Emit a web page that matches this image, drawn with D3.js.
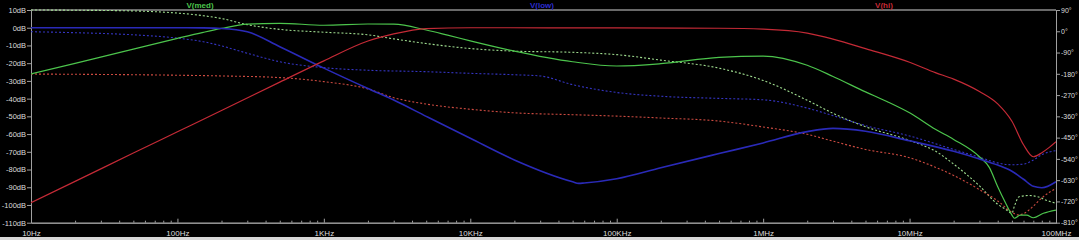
<!DOCTYPE html>
<html>
<head>
<meta charset="utf-8">
<script src="https://cdn.jsdelivr.net/npm/d3@7"></script>
<style>
  html, body { margin: 0; padding: 0; background: #000; }
  svg { display: block; }
  .tick text { font-family: "Liberation Sans", Arial, sans-serif; fill: #dcdcdc; }
</style>
</head>
<body>
<div class="chart"></div>
<script>
// tick labels
const dbTicks = [10, 0, -10, -20, -30, -40, -50, -60, -70, -80, -90, -100, -110];
const degTicks = [90, 0, -90, -180, -270, -360, -450, -540, -630, -720, -810];
const freqTicks = [10, 100, 1e3, 1e4, 1e5, 1e6, 1e7, 1e8];
const freqLabels = ["10Hz", "100Hz", "1KHz", "10KHz", "100KHz", "1MHz", "10MHz", "100MHz"];

// [freq Hz, dB] and [freq Hz, degrees]
const medMag = [[10,-26.1],[20,-20.1],[50,-12.1],[100,-6],[150,-2.6],[200,-0.4],[300,2],[500,2.5],[1e3,1.4],[2e3,2.1],[3e3,2],[5e3,-1.3],[7e3,-4.2],[1e4,-7.4],[2e4,-13.2],[5e4,-19.2],[1e5,-21.6],[2e5,-20.3],[5e5,-16.7],[1e6,-16],[2e6,-21.2],[3e6,-27.5],[5e6,-36.2],[7e6,-41.6],[1e7,-48],[1.5e7,-57.3],[2e7,-63],[3e7,-72.8],[3.5e7,-78.8],[4e7,-89.7],[4.5e7,-98.5],[5e7,-105.7],[5.2e7,-107.5],[5.7e7,-105.7],[6.3e7,-105.7],[7e7,-107.2],[8.2e7,-104.7],[1e8,-102.9]];
const medPhase = [[10,90],[20,89],[50,86],[100,77],[150,66],[200,54],[300,28],[500,8],[1e3,-4],[2e3,-15],[3e3,-32],[5e3,-52],[1e4,-73],[2e4,-84],[5e4,-89],[1e5,-99],[2e5,-122],[5e5,-156],[1e6,-208],[2e6,-292],[3e6,-347],[5e6,-404],[1e7,-462],[1.5e7,-507],[2e7,-562],[3e7,-654],[4e7,-732],[4.5e7,-752],[5e7,-770],[5.2e7,-740],[5.6e7,-700],[6.5e7,-695],[7.5e7,-700],[8.5e7,-714],[1e8,-728]];

const lowMag = [[10,0],[100,0],[150,-0.1],[200,-0.4],[300,-2.3],[500,-10.7],[1e3,-22.8],[2e3,-34.3],[3e3,-40.8],[5e3,-50],[1e4,-62.4],[2e4,-74.6],[5e4,-86.9],[5.5e4,-87.8],[6e4,-87.6],[1e5,-85.2],[2e5,-79],[5e5,-71],[1e6,-65],[2e6,-58.6],[3e6,-56.8],[5e6,-58.4],[1e7,-63.8],[2e7,-69.7],[3e7,-74],[4e7,-77.5],[5e7,-81],[6e7,-85.5],[7e7,-89.5],[8e7,-90.3],[1e8,-86.9]];
const lowPhase = [[10,-2],[20,-6],[50,-15],[100,-29],[150,-44],[200,-62],[300,-93],[500,-129],[1e3,-154],[2e3,-165],[5e3,-171],[1e4,-178],[2e4,-184],[3e4,-189],[5e4,-226],[1e5,-259],[2e5,-275],[5e5,-284],[1e6,-290],[2e6,-325],[3e6,-357],[5e6,-399],[1e7,-443],[2e7,-500],[3e7,-533],[4e7,-557],[5e7,-565],[6e7,-562],[7e7,-545],[8e7,-522],[1e8,-505]];

const hiMag = [[10,-98.7],[20,-86.7],[50,-70.7],[100,-58.7],[200,-46.7],[500,-30.7],[1e3,-18.7],[2e3,-7.5],[3e3,-3.5],[5e3,-0.5],[1e4,0],[1e5,-0.1],[5e5,-0.3],[1e6,-0.8],[2e6,-3],[3e6,-6.4],[5e6,-11.8],[1e7,-19.5],[1.5e7,-25.3],[2e7,-29],[3e7,-36],[4e7,-43],[5e7,-52.8],[6e7,-66],[7e7,-72.8],[8e7,-70.5],[9e7,-67.5],[1e8,-64.3]];
const hiPhase = [[10,-181],[100,-186],[200,-189],[500,-196],[1e3,-213],[2e3,-244],[3e3,-281],[5e3,-308],[1e4,-330],[2e4,-345],[5e4,-353],[1e5,-359],[2e5,-367],[5e5,-380],[1e6,-405],[2e6,-436],[3e6,-465],[5e6,-500],[1e7,-535],[1.5e7,-575],[2e7,-610],[3e7,-670],[4e7,-718],[5e7,-766],[5.5e7,-777],[6e7,-772],[7e7,-740],[8e7,-705],[1e8,-665]];

const W = 1079, H = 240;
const pLeft = 31, pRight = 1056, pTop = 10, pBottom = 222.7;

const svg = d3.select(".chart").append("svg")
  .attr("width", W).attr("height", H)
  .style("background", "#000");

const x = d3.scaleLog().domain([10, 1e8]).range([pLeft, pRight]);
const yDb = d3.scaleLinear().domain([-110, 10]).range([pBottom, pTop]);
const yDeg = d3.scaleLinear().domain([-810, 90]).range([pBottom, pTop]);

// window edge at the bottom
svg.append("rect").attr("x", 0).attr("y", 237).attr("width", W).attr("height", 3).attr("fill", "#d8d8d8");

// frame
svg.append("line").attr("x1", pLeft).attr("x2", pRight).attr("y1", pTop).attr("y2", pTop)
  .attr("stroke", "#8c8c8c").attr("stroke-width", 1.5);

// left axis
svg.append("g").attr("transform", `translate(${pLeft},0)`)
  .style("font-size", "7.5px")
  .call(d3.axisLeft(yDb).tickValues(dbTicks).tickSize(4).tickSizeOuter(0).tickPadding(1).tickFormat(d => d + "dB"));
// right axis
svg.append("g").attr("transform", `translate(${pRight},0)`)
  .style("font-size", "7px")
  .call(d3.axisRight(yDeg).tickValues(degTicks).tickSize(4).tickSizeOuter(0).tickPadding(1).tickFormat(d => d + "°"));
// bottom axis
const minor = [];
for (let e = 1; e < 8; e++) for (let m = 2; m <= 9; m++) minor.push(m * Math.pow(10, e));
svg.append("g").attr("transform", `translate(0,${pBottom})`)
  .call(d3.axisBottom(x).tickValues(minor).tickSize(-2).tickFormat(""));
svg.append("g").attr("transform", `translate(0,${pBottom})`)
  .style("font-size", "8px")
  .call(d3.axisBottom(x).tickValues(freqTicks).tickSize(-4).tickSizeOuter(0).tickPadding(8)
    .tickFormat((d, i) => freqLabels[i]));

svg.selectAll(".domain").attr("stroke", "#a0a0a0");
svg.selectAll(".tick line").attr("stroke", "#a0a0a0");

// traces
svg.append("clipPath").attr("id", "plot")
  .append("rect").attr("x", pLeft).attr("y", pTop - 1).attr("width", pRight - pLeft).attr("height", pBottom - pTop + 2);

const plot = svg.append("g").attr("clip-path", "url(#plot)");

const magLine = d3.line().x(d => x(d[0])).y(d => yDb(d[1])).curve(d3.curveMonotoneX);
const phLine = d3.line().x(d => x(d[0])).y(d => yDeg(d[1])).curve(d3.curveMonotoneX);

const traces = [
  { name: "V(med)", mag: medMag, ph: medPhase, color: "#4cc44c", dot: "#9fdc8f", label: "#4cc44c", tx: 200 },
  { name: "V(low)", mag: lowMag, ph: lowPhase, color: "#2a2ab8", dot: "#3434c0", label: "#2c2cd0", tx: 542 },
  { name: "V(hi)", mag: hiMag, ph: hiPhase, color: "#c42a36", dot: "#cc4a40", label: "#c42a36", tx: 884 }
];

traces.forEach(t => {
  plot.append("path").datum(t.ph)
    .attr("d", phLine).attr("fill", "none")
    .attr("stroke", t.dot).attr("stroke-width", 1.1).attr("stroke-dasharray", "2,2");
});
traces.forEach(t => {
  plot.append("path").datum(t.mag)
    .attr("d", magLine).attr("fill", "none")
    .attr("stroke", t.color).attr("stroke-width", t.name == "V(low)" ? 1.6 : 1.2);
  svg.append("text").attr("x", t.tx).attr("y", 7.5)
    .attr("text-anchor", "middle")
    .style("font-family", "Liberation Sans, Arial, sans-serif")
    .style("font-size", "8px").style("font-weight", "bold")
    .attr("fill", t.label)
    .text(t.name);
});
</script>
</body>
</html>
